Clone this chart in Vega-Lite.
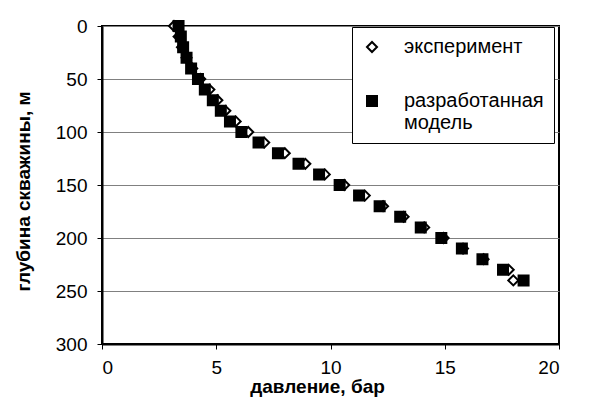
{
  "$schema": "https://vega.github.io/schema/vega-lite/v6.json",
  "width": 457,
  "height": 318,
  "autosize": {"type": "none"},
  "padding": {"left": 102, "top": 26, "right": 34, "bottom": 61},
  "background": "white",
  "config": {
    "view": {"stroke": "black", "strokeWidth": 2},
    "font": "Liberation Sans",
    "legend": {
      "title": null,
      "orient": "none",
      "legendX": 250,
      "legendY": 1,
      "fillColor": "white",
      "strokeColor": "black",
      "padding": 10,
      "labelFontSize": 20,
      "labelColor": "black",
      "labelLimit": 400,
      "symbolSize": 100,
      "symbolStrokeWidth": 2,
      "symbolStrokeColor": "black",
      "rowPadding": 34,
      "labelOffset": 22
    }
  },
  "data": {
    "values": [
      {"series": "эксперимент", "depth": 0, "pressure": 3.15},
      {"series": "эксперимент", "depth": 10, "pressure": 3.35},
      {"series": "эксперимент", "depth": 20, "pressure": 3.5},
      {"series": "эксперимент", "depth": 30, "pressure": 3.7},
      {"series": "эксперимент", "depth": 40, "pressure": 3.95},
      {"series": "эксперимент", "depth": 50, "pressure": 4.3},
      {"series": "эксперимент", "depth": 60, "pressure": 4.7},
      {"series": "эксперимент", "depth": 70, "pressure": 5.05},
      {"series": "эксперимент", "depth": 80, "pressure": 5.4},
      {"series": "эксперимент", "depth": 90, "pressure": 5.85},
      {"series": "эксперимент", "depth": 100, "pressure": 6.4},
      {"series": "эксперимент", "depth": 110, "pressure": 7.1},
      {"series": "эксперимент", "depth": 120, "pressure": 8.0},
      {"series": "эксперимент", "depth": 130, "pressure": 8.9},
      {"series": "эксперимент", "depth": 140, "pressure": 9.75},
      {"series": "эксперимент", "depth": 150, "pressure": 10.6},
      {"series": "эксперимент", "depth": 160, "pressure": 11.5},
      {"series": "эксперимент", "depth": 170, "pressure": 12.3},
      {"series": "эксперимент", "depth": 180, "pressure": 13.2},
      {"series": "эксперимент", "depth": 190, "pressure": 14.1},
      {"series": "эксперимент", "depth": 200, "pressure": 14.95},
      {"series": "эксперимент", "depth": 210, "pressure": 15.8},
      {"series": "эксперимент", "depth": 220, "pressure": 16.7},
      {"series": "эксперимент", "depth": 230, "pressure": 17.8},
      {"series": "эксперимент", "depth": 240, "pressure": 18.0},
      {"series": "разработанная модель", "depth": 0, "pressure": 3.35},
      {"series": "разработанная модель", "depth": 10, "pressure": 3.45},
      {"series": "разработанная модель", "depth": 20, "pressure": 3.55},
      {"series": "разработанная модель", "depth": 30, "pressure": 3.7},
      {"series": "разработанная модель", "depth": 40, "pressure": 3.9},
      {"series": "разработанная модель", "depth": 50, "pressure": 4.2},
      {"series": "разработанная модель", "depth": 60, "pressure": 4.5},
      {"series": "разработанная модель", "depth": 70, "pressure": 4.85},
      {"series": "разработанная модель", "depth": 80, "pressure": 5.2},
      {"series": "разработанная модель", "depth": 90, "pressure": 5.6},
      {"series": "разработанная модель", "depth": 100, "pressure": 6.1},
      {"series": "разработанная модель", "depth": 110, "pressure": 6.85},
      {"series": "разработанная модель", "depth": 120, "pressure": 7.7},
      {"series": "разработанная модель", "depth": 130, "pressure": 8.6},
      {"series": "разработанная модель", "depth": 140, "pressure": 9.5},
      {"series": "разработанная модель", "depth": 150, "pressure": 10.4},
      {"series": "разработанная модель", "depth": 160, "pressure": 11.25},
      {"series": "разработанная модель", "depth": 170, "pressure": 12.15},
      {"series": "разработанная модель", "depth": 180, "pressure": 13.05},
      {"series": "разработанная модель", "depth": 190, "pressure": 13.95},
      {"series": "разработанная модель", "depth": 200, "pressure": 14.85},
      {"series": "разработанная модель", "depth": 210, "pressure": 15.75},
      {"series": "разработанная модель", "depth": 220, "pressure": 16.65},
      {"series": "разработанная модель", "depth": 230, "pressure": 17.55},
      {"series": "разработанная модель", "depth": 240, "pressure": 18.45}
    ]
  },
  "mark": {"type": "point", "filled": true, "strokeWidth": 2, "size": 100, "opacity": 1},
  "encoding": {
    "x": {
      "field": "pressure",
      "type": "quantitative",
      "scale": {"domain": [0, 20], "nice": false, "zero": false},
      "axis": {
        "values": [0, 5, 10, 15, 20],
        "grid": false,
        "domainColor": "black",
        "domainWidth": 2,
        "tickColor": "black",
        "tickSize": 5,
        "labelFontSize": 19,
        "labelColor": "black",
        "labelPadding": 9,
        "title": "давление, бар",
        "titleFontSize": 19,
        "titleFontWeight": "bold",
        "titleColor": "black",
        "titleX": 215,
        "titlePadding": 0
      }
    },
    "y": {
      "field": "depth",
      "type": "quantitative",
      "scale": {"domain": [0, 300], "reverse": true, "nice": false},
      "axis": {
        "values": [0, 50, 100, 150, 200, 250, 300],
        "grid": true,
        "gridColor": "#808080",
        "gridWidth": 1,
        "domainColor": "black",
        "domainWidth": 2,
        "tickColor": "black",
        "tickSize": 5,
        "labelFontSize": 19,
        "labelColor": "black",
        "labelPadding": 10,
        "title": "глубина скважины, м",
        "titleFontSize": 19,
        "titleFontWeight": "bold",
        "titleColor": "black",
        "titleX": -69,
        "titleY": 165
      }
    },
    "shape": {
      "field": "series",
      "type": "nominal",
      "sort": ["эксперимент", "разработанная модель"],
      "scale": {"domain": ["эксперимент", "разработанная модель"], "range": ["diamond", "square"]},
      "legend": {
        "labelExpr": "datum.label == 'разработанная модель' ? ['разработанная', 'модель'] : datum.label",
        "encode": {"labels": {"update": {"lineHeight": {"value": 24}}}}
      }
    },
    "fill": {
      "field": "series",
      "type": "nominal",
      "sort": ["эксперимент", "разработанная модель"],
      "scale": {"domain": ["эксперимент", "разработанная модель"], "range": ["white", "black"]},
      "legend": {
        "labelExpr": "datum.label == 'разработанная модель' ? ['разработанная', 'модель'] : datum.label",
        "encode": {"labels": {"update": {"lineHeight": {"value": 24}}}}
      }
    },
    "stroke": {
      "field": "series",
      "type": "nominal",
      "sort": ["эксперимент", "разработанная модель"],
      "scale": {"domain": ["эксперимент", "разработанная модель"], "range": ["black", "black"]},
      "legend": {
        "labelExpr": "datum.label == 'разработанная модель' ? ['разработанная', 'модель'] : datum.label",
        "encode": {"labels": {"update": {"lineHeight": {"value": 24}}}}
      }
    }
  }
}
